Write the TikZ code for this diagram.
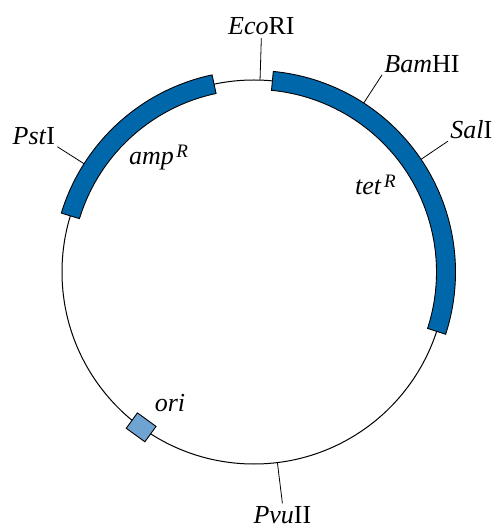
\documentclass[tikz,border=0pt]{standalone}
\usepackage{fontspec}
\setmainfont{Liberation Serif}
\definecolor{geneblue}{RGB}{0,104,170}
\definecolor{oriblue}{RGB}{111,163,210}
\newcommand{\res}{\hspace{2.5pt}\raisebox{7pt}{\fontsize{19}{22}\selectfont\textit{R}}}
\tikzset{
  gene/.style={draw=black, line width=0.9pt, fill=geneblue},
  site/.style={line width=0.8pt},
  orimark/.style={draw=black, line width=0.9pt, fill=oriblue, inner sep=0pt,
    minimum width=19pt, minimum height=23pt},
}
\begin{document}
\begin{tikzpicture}[x=1pt,y=1pt,font=\fontsize{26}{30}\selectfont]
\useasboundingbox (-254,-260) rectangle (246,272);
\draw[line width=1pt] (0,0) circle[radius=192pt];

% restriction sites
\coordinate (ecoend) at (88.2:234);
\coordinate (bamend) at (57:235);
\coordinate (salend) at (34:234);
\coordinate (pstend) at (147.5:233);
\coordinate (pvuend) at (-83:233);
\draw[site] (88.2:192) -- (ecoend) node[above, inner sep=3pt] (eco) {\textit{Eco}RI};
\draw[site] (57:192) -- (bamend) node[anchor=south west, inner sep=2pt] (bam) {\textit{Bam}HI};
\draw[site] (34:192) -- (salend) node[anchor=south west, inner sep=2pt] (sal) {\textit{Sal}I};
\draw[site] (147.5:192) -- (pstend) node[anchor=south east, inner sep=2pt] (pst) {\textit{Pst}I};
\draw[site] (-83:192) -- (pvuend) node[below, inner sep=3pt] (pvu) {\textit{Pvu}II};

% genes
\draw[gene] (102:182.5) arc[start angle=102, end angle=163, radius=182.5pt]
  -- (163:201.5) arc[start angle=163, end angle=102, radius=201.5pt] -- cycle;
\draw[gene] (84.5:182.5) arc[start angle=84.5, end angle=-18, radius=182.5pt]
  -- (-18:201.5) arc[start angle=-18, end angle=84.5, radius=201.5pt] -- cycle;
\node[anchor=base west, inner sep=0pt] (amp) at (-125,107) {\textit{amp}\res};
\node[anchor=base west, inner sep=0pt] (tet) at (101,77) {\textit{tet}\res};

% origin
\node[orimark, rotate=234] (ori) at (234:192) {};
\node (orilbl) at (-84,-131) {\textit{ori}};
\end{tikzpicture}
\end{document}
